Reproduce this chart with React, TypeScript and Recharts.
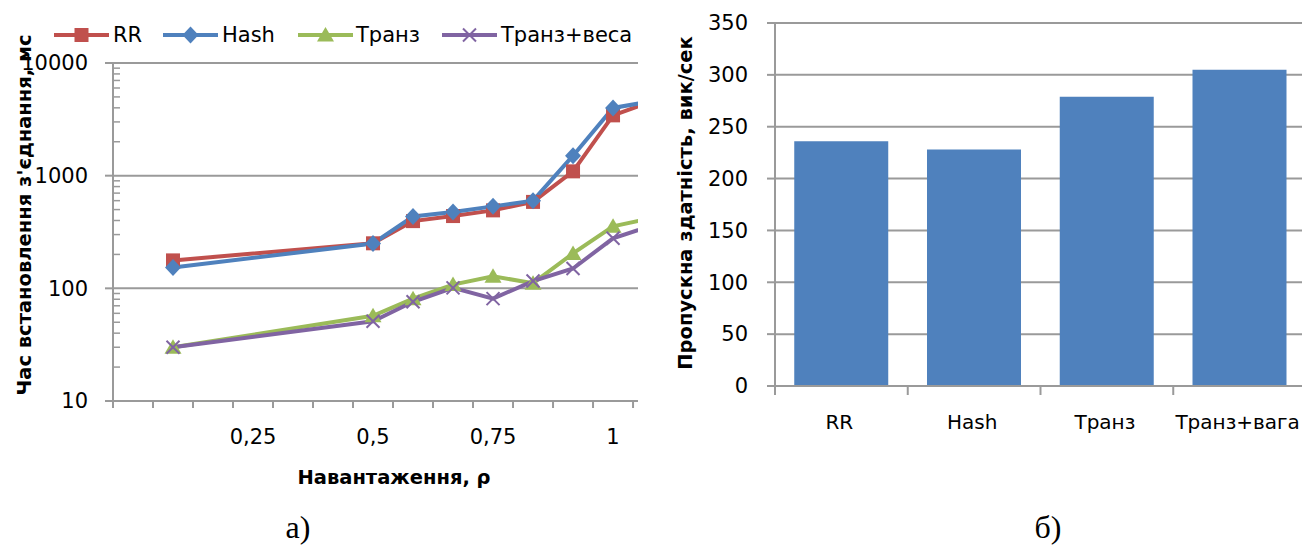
import React from 'react';
import { LineChart, Line, XAxis, YAxis, ReferenceLine, BarChart, Bar, CartesianGrid } from 'recharts';

// ---------- Data: left chart (connection setup time vs load) ----------
const loadValues = [1 / 12, 6 / 12, 7 / 12, 8 / 12, 9 / 12, 10 / 12, 11 / 12, 12 / 12, 13 / 12];
const rrTimes = [177, 251, 395, 438, 492, 585, 1092, 3430, 4600];
const hashTimes = [153, 250, 435, 476, 534, 600, 1505, 3990, 4600];
const tranzTimes = [30, 57, 81, 108, 128, 111, 204, 355, 422];
const tranzWeightTimes = [30, 51, 76, 101, 81, 116, 150, 278, 364];
const seriesNames = ['RR', 'Hash', 'Транз', 'Транз+веса'];
const xLabelTicks = [0.25, 0.5, 0.75, 1];
const xLabelTexts = ['0,25', '0,5', '0,75', '1'];
const yMajorTicks = [10, 100, 1000, 10000];

// ---------- Data: right chart (throughput) ----------
const methods = ['RR', 'Hash', 'Транз', 'Транз+вага'];
const throughput = [236, 228, 279, 305];
const barYTicks = [0, 50, 100, 150, 200, 250, 300, 350];

// ---------- Styles ----------
const FONT = 'DejaVu Sans';
const AXIS = '#9a9a9a';
const RED = '#C0504D';
const BLUE = '#4F81BD';
const GREEN = '#9BBB59';
const PURPLE = '#8064A2';
const colors = [RED, BLUE, GREEN, PURPLE];
const LW = 4;

const lineData = loadValues.map((x, i) => ({
  x,
  rr: rrTimes[i],
  hash: hashTimes[i],
  tranz: tranzTimes[i],
  tranzW: tranzWeightTimes[i],
}));
const barData = methods.map((m, i) => ({ name: m, value: throughput[i] }));

// category boundaries (tick marks) of the load axis: step 1/12, ticks between categories
const xBoundaryTicks = Array.from({ length: 14 }, (_, k) => (2 * k - 1) / 24);
const yMinorTicks: number[] = [];
[10, 100, 1000].forEach((d) => {
  for (let m = 2; m <= 9; m++) yMinorTicks.push(d * m);
});

function Marker({ kind, cx, cy, color }: { kind: number; cx: number; cy: number; color: string }) {
  if (kind === 0) return <rect x={cx - 7} y={cy - 7} width={14} height={14} fill={color} />;
  if (kind === 1)
    return <polygon points={`${cx},${cy - 8.5} ${cx + 8},${cy} ${cx},${cy + 8.5} ${cx - 8},${cy}`} fill={color} />;
  if (kind === 2)
    return <polygon points={`${cx},${cy - 8} ${cx + 8.5},${cy + 6.5} ${cx - 8.5},${cy + 6.5}`} fill={color} />;
  return (
    <g stroke={color} strokeWidth={2}>
      <line x1={cx - 6.5} y1={cy - 6.5} x2={cx + 6.5} y2={cy + 6.5} />
      <line x1={cx - 6.5} y1={cy + 6.5} x2={cx + 6.5} y2={cy - 6.5} />
    </g>
  );
}

const makeDot = (kind: number) => (props: any) => {
  const { cx, cy, index } = props;
  if (cx == null || cy == null) return <g key={`d-${kind}-${index}`} />;
  return (
    <g key={`d-${kind}-${index}`}>
      <Marker kind={kind} cx={cx} cy={cy} color={colors[kind]} />
    </g>
  );
};

const LeftXTick = (props: any) => {
  const { x, y, payload } = props;
  const idx = xLabelTicks.indexOf(payload.value);
  if (idx >= 0) {
    return (
      <text x={x} y={y + 36} dy="0.35em" textAnchor="middle" fontFamily={FONT} fontSize={21} fill="#000">
        {xLabelTexts[idx]}
      </text>
    );
  }
  return <line x1={x} x2={x} y1={y} y2={y + 7} stroke={AXIS} strokeWidth={2} />;
};

const LeftYTick = (props: any) => {
  const { x, y, payload } = props;
  if (yMajorTicks.includes(payload.value)) {
    return (
      <g>
        <line x1={x - 8} x2={x} y1={y} y2={y} stroke={AXIS} strokeWidth={2} />
        <text x={x - 25} y={y} dy="0.35em" textAnchor="end" fontFamily={FONT} fontSize={21} fill="#000">
          {payload.value}
        </text>
      </g>
    );
  }
  return <line x1={x} x2={x + 7} y1={y} y2={y} stroke={AXIS} strokeWidth={1.5} />;
};

const RightYTick = (props: any) => {
  const { x, y, payload } = props;
  return (
    <g>
      <line x1={x - 8} x2={x} y1={y} y2={y} stroke={AXIS} strokeWidth={2} />
      <text x={x - 27} y={y} dy="0.35em" textAnchor="end" fontFamily={FONT} fontSize={21} fill="#000">
        {payload.value}
      </text>
    </g>
  );
};

const RightXTick = (props: any) => {
  const { x, y, payload, index, visibleTicksCount } = props;
  const off = payload.offset || 66;
  return (
    <g>
      <line x1={x - off} x2={x - off} y1={y} y2={y + 9} stroke={AXIS} strokeWidth={2} />
      {index === visibleTicksCount - 1 && (
        <line x1={x + off} x2={x + off} y1={y} y2={y + 9} stroke={AXIS} strokeWidth={2} />
      )}
      <text x={x - 2} y={y + 36} dy="0.35em" textAnchor="middle" fontFamily={FONT} fontSize={20} fill="#000">
        {payload.value}
      </text>
    </g>
  );
};

const legendItems = [
  { lineStart: 54, textX: 113 },
  { lineStart: 163, textX: 222 },
  { lineStart: 298, textX: 356 },
  { lineStart: 442, textX: 501 },
];

export default function App() {
  return (
    <div style={{ position: 'absolute', left: 0, top: 0, width: 1302, height: 545, background: '#fff', overflow: 'hidden' }}>
      <div style={{ position: 'absolute', left: 0, top: 0 }}>
        <LineChart width={660} height={545} data={lineData} margin={{ top: 63, right: 22, bottom: 104, left: 13 }}>
          <XAxis
            dataKey="x"
            type="number"
            domain={[-1 / 24, 1.052]}
            allowDataOverflow
            ticks={[...xBoundaryTicks, ...xLabelTicks]}
            interval={0}
            tick={LeftXTick}
            tickLine={false}
            tickSize={0}
            tickMargin={0}
            height={40}
            axisLine={{ stroke: AXIS, strokeWidth: 2 }}
          />
          <YAxis
            type="number"
            scale="log"
            domain={[10, 10000]}
            allowDataOverflow
            ticks={[...yMajorTicks, ...yMinorTicks]}
            interval={0}
            tick={LeftYTick}
            tickLine={false}
            tickSize={0}
            tickMargin={0}
            width={100}
            axisLine={{ stroke: AXIS, strokeWidth: 2 }}
          />
          {[100, 1000, 10000].map((v) => (
            <ReferenceLine key={v} y={v} stroke={AXIS} strokeWidth={2} />
          ))}
          <Line dataKey="rr" name={seriesNames[0]} stroke={RED} strokeWidth={LW} dot={makeDot(0)} isAnimationActive={false} />
          <Line dataKey="hash" name={seriesNames[1]} stroke={BLUE} strokeWidth={LW} dot={makeDot(1)} isAnimationActive={false} />
          <Line dataKey="tranz" name={seriesNames[2]} stroke={GREEN} strokeWidth={LW} dot={makeDot(2)} isAnimationActive={false} />
          <Line dataKey="tranzW" name={seriesNames[3]} stroke={PURPLE} strokeWidth={LW} dot={makeDot(3)} isAnimationActive={false} />
        </LineChart>
      </div>

      <div style={{ position: 'absolute', left: 660, top: 0, width: 642, height: 545, overflow: 'hidden' }}>
        <BarChart width={660} height={545} data={barData} margin={{ top: 23, right: 14, bottom: 109, left: 15 }} barCategoryGap="14.5%">
          <CartesianGrid vertical={false} stroke={AXIS} strokeWidth={2} />
          <XAxis
            dataKey="name"
            tick={RightXTick}
            tickLine={false}
            tickSize={0}
            tickMargin={0}
            interval={0}
            height={50}
            axisLine={{ stroke: AXIS, strokeWidth: 2 }}
          />
          <YAxis
            domain={[0, 350]}
            ticks={barYTicks}
            interval={0}
            tick={RightYTick}
            tickLine={false}
            tickSize={0}
            tickMargin={0}
            width={100}
            axisLine={{ stroke: AXIS, strokeWidth: 2 }}
          />
          <Bar dataKey="value" fill={BLUE} isAnimationActive={false} />
        </BarChart>
      </div>

      <svg width={1302} height={545} style={{ position: 'absolute', left: 0, top: 0, pointerEvents: 'none' }}>
        {legendItems.map((it, i) => (
          <g key={i}>
            <line x1={it.lineStart} x2={it.lineStart + 55} y1={35} y2={35} stroke={colors[i]} strokeWidth={LW} />
            <Marker kind={i} cx={it.lineStart + 27.5} cy={35} color={colors[i]} />
            <text x={it.textX} y={35} dy="0.35em" fontFamily={FONT} fontSize={21} fill="#000">
              {seriesNames[i]}
            </text>
          </g>
        ))}
        <text
          transform="translate(24,215) rotate(-90)"
          textAnchor="middle"
          dy="0.35em"
          fontFamily={FONT}
          fontWeight="bold"
          fontSize={19.5}
          fill="#000"
        >
          Час встановлення з'єднання, мс
        </text>
        <text x={394} y={477} dy="0.35em" textAnchor="middle" fontFamily={FONT} fontWeight="bold" fontSize={19.5} fill="#000">
          Навантаження, ρ
        </text>
        <text
          transform="translate(685,203) rotate(-90)"
          textAnchor="middle"
          dy="0.35em"
          fontFamily={FONT}
          fontWeight="bold"
          fontSize={19.5}
          fill="#000"
        >
          Пропускна здатність, вик/сек
        </text>
        <text x={298} y={538} textAnchor="middle" fontFamily="Liberation Serif" fontSize={32} fill="#000">
          а)
        </text>
        <text x={1048} y={538} textAnchor="middle" fontFamily="Liberation Serif" fontSize={32} fill="#000">
          б)
        </text>
      </svg>
    </div>
  );
}
